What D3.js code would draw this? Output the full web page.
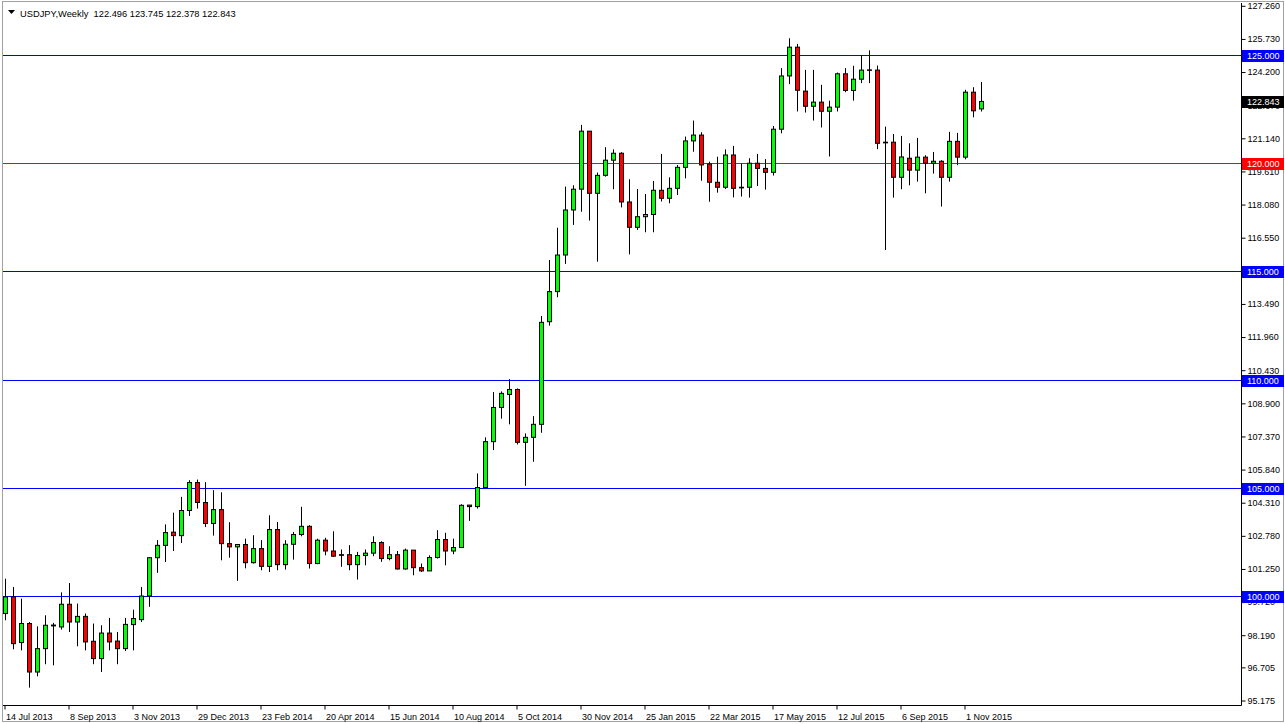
<!DOCTYPE html>
<html><head><meta charset="utf-8">
<script src="https://cdn.jsdelivr.net/npm/d3@7"></script>
<style>
html,body{margin:0;padding:0;background:#fff;}
svg{display:block;font-family:Tahoma,"Liberation Sans","DejaVu Sans",sans-serif;}
</style></head>
<body><svg id="c" width="1285" height="724"></svg>
<script>
// ---- data (weekly USDJPY, 14 Jul 2013 .. 15 Nov 2015) ----
const symbolTitle = "USDJPY,Weekly";
const lastQuote = ["122.496","123.745","122.378","122.843"];
const dateLabels = ["14 Jul 2013","8 Sep 2013","3 Nov 2013","29 Dec 2013","23 Feb 2014","20 Apr 2014","15 Jun 2014","10 Aug 2014","5 Oct 2014","30 Nov 2014","25 Jan 2015","22 Mar 2015","17 May 2015","12 Jul 2015","6 Sep 2015","1 Nov 2015"];
const priceTicks = [127.260,125.730,124.200,122.670,121.140,119.610,118.080,116.550,115.020,113.490,111.960,110.430,108.900,107.370,105.840,104.310,102.780,101.250,99.720,98.190,96.705,95.175];
const blueLevels = [125,115,110,105,100];
const redLevels = [120];
const openP = [99.19,99.96,97.85,98.73,96.49,97.57,98.62,98.57,99.62,98.80,99.06,97.91,97.11,98.29,97.92,97.57,98.68,98.91,100.00,101.77,102.34,102.95,102.79,103.95,105.24,104.32,103.35,103.99,102.42,102.27,102.38,101.54,102.19,101.37,103.07,101.45,102.39,102.84,103.22,101.50,102.58,102.08,101.91,101.91,101.45,101.87,101.98,102.47,101.73,101.91,101.25,102.12,101.31,101.16,101.78,102.61,102.08,102.24,104.20,104.13,105.01,107.13,108.71,109.31,109.54,107.10,107.33,107.93,112.67,114.06,115.75,117.83,118.79,121.47,118.60,119.43,120.13,120.45,118.20,117.03,117.52,117.62,118.74,118.37,118.83,119.80,121.02,121.29,119.95,119.11,118.88,120.37,118.88,118.88,119.99,119.75,119.57,121.56,124.02,125.35,123.32,122.62,122.81,122.39,122.58,124.12,123.35,123.87,124.30,124.29,120.96,120.96,119.34,120.22,119.67,120.27,119.99,120.08,119.34,121.00,120.27,123.27,122.496];
const highP = [100.80,100.42,99.88,98.80,98.60,99.11,98.76,100.17,100.60,99.65,99.19,98.73,98.65,98.99,98.34,98.99,99.37,100.42,101.80,102.58,103.31,103.85,104.58,105.35,105.38,105.26,104.89,104.79,103.41,102.39,102.65,102.81,102.58,103.73,103.42,102.58,102.96,104.12,103.27,102.65,102.69,102.99,102.15,102.35,102.04,102.15,102.76,102.53,102.30,102.08,102.19,102.12,101.50,101.88,103.04,102.92,102.65,104.24,104.20,105.66,107.33,109.42,109.45,110.02,109.59,107.51,108.31,112.93,115.52,117.01,118.91,118.97,121.76,121.47,119.56,120.73,120.63,120.50,119.25,118.80,118.57,119.17,120.42,119.34,119.91,121.22,121.96,121.42,120.06,120.29,120.63,120.79,119.99,120.22,120.42,120.18,121.71,124.38,125.76,125.50,124.30,124.30,123.61,122.88,124.18,124.38,124.49,124.99,125.20,124.50,121.68,121.34,121.25,120.91,121.16,120.36,120.51,120.13,121.44,121.39,123.38,123.50,123.745];
const lowP = [98.88,97.54,97.49,95.77,96.29,96.85,96.80,98.45,98.34,97.68,97.49,96.85,96.49,97.49,96.85,97.46,97.49,98.80,99.50,101.07,101.57,102.08,102.45,103.70,104.04,103.19,102.79,101.65,101.77,100.70,101.28,101.50,101.19,101.11,101.19,101.22,101.68,102.76,101.27,101.47,101.88,101.81,101.35,101.19,100.76,101.42,101.84,101.58,101.65,101.22,101.22,100.96,101.11,101.16,101.73,101.42,101.93,102.24,103.47,104.04,104.97,106.74,108.19,107.93,107.00,105.09,106.20,107.54,112.49,113.80,115.34,117.14,117.75,117.34,115.44,119.37,118.79,117.95,115.78,116.91,116.80,116.80,118.22,118.14,118.52,119.29,120.52,119.18,118.21,118.63,118.80,118.41,118.45,118.40,118.94,118.77,119.42,121.37,123.64,122.38,122.33,121.96,121.64,120.30,122.38,123.27,122.88,123.69,123.69,120.64,115.98,118.40,118.79,118.97,119.14,118.60,119.51,117.99,119.14,119.90,120.17,122.11,122.378];
const closeP = [99.96,97.80,98.73,96.49,97.57,98.65,98.66,99.62,98.80,99.06,97.88,97.11,98.29,97.88,97.57,98.69,98.96,100.00,101.77,102.34,102.93,102.79,103.95,105.24,104.32,103.35,103.99,102.42,102.27,102.38,101.54,102.19,101.37,103.07,101.45,102.39,102.84,103.22,101.50,102.58,102.08,101.84,101.88,101.45,101.87,101.98,102.47,101.73,101.91,101.25,102.12,101.31,101.16,101.78,102.61,102.08,102.24,104.19,104.13,105.01,107.13,108.71,109.36,109.54,107.10,107.33,107.93,112.64,114.06,115.75,117.83,118.79,121.47,118.60,119.43,120.13,120.45,118.20,117.03,117.52,117.62,118.74,118.37,118.83,119.80,121.02,121.29,119.91,119.11,118.88,120.37,118.83,118.85,119.99,119.75,119.57,121.56,124.02,125.35,123.36,122.62,122.81,122.39,122.58,124.12,123.35,123.87,124.29,124.28,120.91,120.93,119.34,120.28,119.67,120.27,119.99,120.08,119.34,121.00,120.27,123.27,122.41,122.843];

const candles = openP.map((o,i)=>({i,o,h:highP[i],l:lowP[i],c:closeP[i]}));

// ---- layout ----
const FONT = "Tahoma,'Liberation Sans',sans-serif";
const svg = d3.select("#c");
const plotL = 3, plotR = 1241, plotT = 3, plotB = 705;
const y = d3.scaleLinear().domain([95.175,127.26]).range([700.5,5.8]);
const x = d3.scaleLinear().domain([0,1]).range([5.5,13.5]);

svg.append("rect").attr("x",0).attr("y",0).attr("width",1285).attr("height",724).attr("fill","#fff");
// outer frame
svg.append("rect").attr("x",2.5).attr("y",1.5).attr("width",1281).attr("height",720)
  .attr("fill","none").attr("stroke","#a0a0a0");

const defs = svg.append("defs");
defs.append("clipPath").attr("id","pc").append("rect")
  .attr("x",plotL).attr("y",plotT).attr("width",plotR-plotL).attr("height",plotB-plotT);
const plot = svg.append("g").attr("clip-path","url(#pc)");

// horizontal level lines
const levels = blueLevels.map(v=>({v,col:"#0000ff"})).concat(redLevels.map(v=>({v,col:"#ff0000"})));
plot.append("g").attr("class","levels").selectAll("line").data(levels).join("line")
  .attr("x1",plotL).attr("x2",plotR)
  .attr("y1",d=>Math.round(y(d.v))+0.5).attr("y2",d=>Math.round(y(d.v))+0.5)
  .attr("shape-rendering","crispEdges")
  .style("stroke",d=>d.col).style("stroke-width","1px");

// candles
const cg = plot.append("g").attr("class","candles");
cg.selectAll("line").data(candles).join("line")
  .attr("x1",d=>x(d.i)).attr("x2",d=>x(d.i))
  .attr("y1",d=>y(d.h)).attr("y2",d=>y(d.l))
  .style("stroke","#000").style("stroke-width","1px");
cg.selectAll("rect").data(candles).join("rect")
  .attr("x",d=>x(d.i)-2).attr("width",4)
  .attr("y",d=>y(Math.max(d.o,d.c)))
  .attr("height",d=>Math.max(0.01,Math.abs(y(d.o)-y(d.c))))
  .style("fill",d=>d.c>=d.o?"#00ff00":"#ff0000")
  .style("stroke","#000").style("stroke-width","1px");

// axes
const yAxis = d3.axisRight(y).tickValues(priceTicks).tickSize(4).tickPadding(2)
  .tickFormat(d=>d.toFixed(3));
const ya = svg.append("g").attr("transform",`translate(${plotR+0.5},0)`).call(yAxis);
ya.select(".domain").attr("d",`M0,${plotT}V${plotB+0.5}`).attr("stroke","#000");
ya.selectAll(".tick line").attr("stroke","#000");
ya.selectAll(".tick text").attr("font-size","9px").attr("fill","#000").attr("font-family",FONT);

const tickIdx = dateLabels.map((d,k)=>k*8);
const xAxis = d3.axisBottom(x).tickValues(tickIdx).tickSize(4).tickPadding(4)
  .tickFormat((d,k)=>dateLabels[k]);
const xa = svg.append("g").attr("transform",`translate(-1,${plotB+0.5})`).call(xAxis);
xa.select(".domain").attr("d",`M${plotL+1},0H${plotR+1.5}`).attr("stroke","#000");
xa.selectAll(".tick line").attr("stroke","#000");
xa.selectAll(".tick text").attr("font-size","9px").attr("fill","#000")
  .attr("text-anchor","start").attr("x",1).attr("dy","0.71em").attr("font-family",FONT);

// highlighted price boxes
const boxes = blueLevels.map(v=>({v,fill:"#0000ff",label:v.toFixed(3)}))
  .concat(redLevels.map(v=>({v,fill:"#ff0000",label:v.toFixed(3)})))
  .concat([{v:+lastQuote[3],fill:"#000",label:lastQuote[3]}]);
const bg = svg.append("g");
bg.selectAll("rect").data(boxes).join("rect")
  .attr("x",plotR+1).attr("width",42)
  .attr("y",d=>Math.round(y(d.v))-5).attr("height",12)
  .style("fill",d=>d.fill);
bg.selectAll("text").data(boxes).join("text")
  .attr("x",plotR+6).attr("y",d=>Math.round(y(d.v))+1).attr("dy","0.32em")
  .attr("font-size","9px").style("fill","#fff").attr("font-family",FONT)
  .text(d=>d.label);

// title
svg.append("path").attr("d","M8,10L15,10L11.5,14Z").attr("fill","#000");
svg.append("text").attr("x",20).attr("y",16.5).attr("font-size","9.3px").attr("fill","#000")
  .attr("font-family",FONT).attr("xml:space","preserve")
  .text(symbolTitle+"  "+lastQuote.join(" "));
</script></body></html>
